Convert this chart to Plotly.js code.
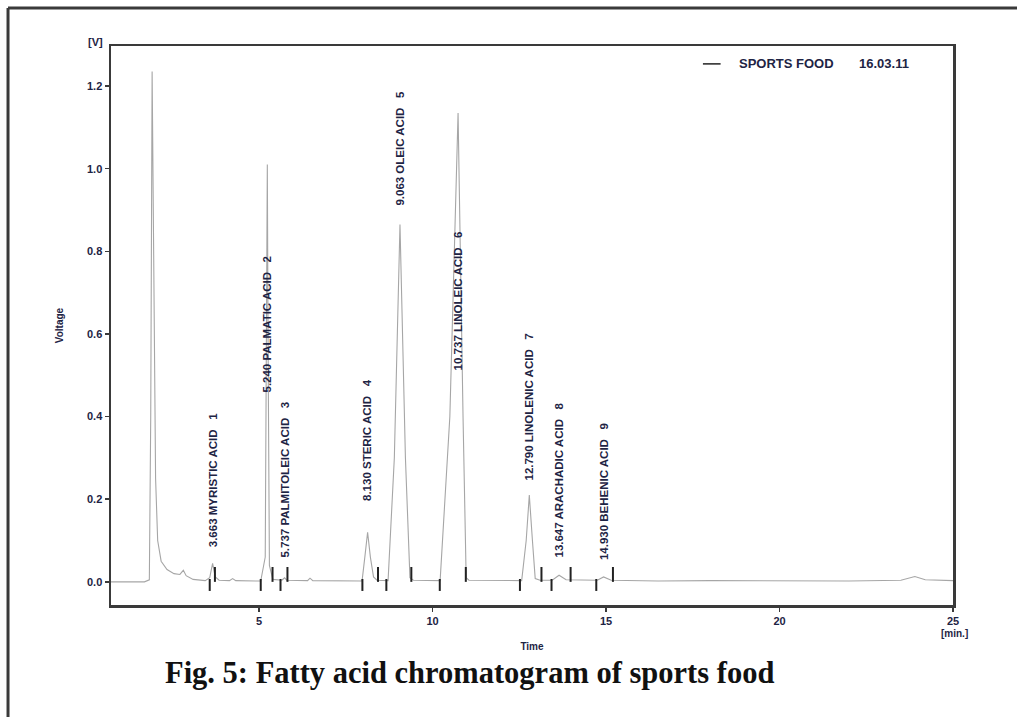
<!DOCTYPE html>
<html>
<head>
<meta charset="utf-8">
<script src="https://cdn.plot.ly/plotly-3.0.1.min.js"></script>
<style>
  html, body { margin: 0; padding: 0; background: #ffffff; }
  #chart { width: 1017px; height: 717px; }
</style>
</head>
<body>
<div id="chart"></div>
<script>
// Chromatogram trace: retention time (min) and detector voltage (V)
const timeMin = [
  0.735, 1.70, 1.84, 1.88, 1.92, 1.97, 2.02, 2.08, 2.18, 2.35, 2.55, 2.72, 2.82, 2.90, 3.10,
  3.45, 3.58, 3.663, 3.74, 3.85, 4.15, 4.24, 4.33,
  5.05, 5.18, 5.22, 5.240, 5.26, 5.30, 5.40,
  5.66, 5.737, 5.80, 6.40, 6.47, 6.55,
  7.97, 8.05, 8.130, 8.21, 8.30, 8.40,
  8.72, 8.90, 9.063, 9.22, 9.35, 9.45,
  10.22, 10.50, 10.737, 10.88, 10.97, 11.05,
  12.57, 12.70, 12.790, 12.88, 12.96, 13.10,
  13.45, 13.647, 13.85, 14.75, 14.930, 15.15,
  16.50, 18.00, 20.00, 22.00, 23.50, 23.90, 24.20, 25.00
];
const voltage = [
  0.000, 0.000, 0.005, 0.400, 1.235, 0.700, 0.250, 0.100, 0.050, 0.030, 0.020, 0.018, 0.028, 0.015, 0.006,
  0.003, 0.010, 0.045, 0.012, 0.004, 0.003, 0.008, 0.003,
  0.002, 0.060, 0.700, 1.010, 0.600, 0.040, 0.006,
  0.004, 0.010, 0.004, 0.003, 0.009, 0.003,
  0.002, 0.060, 0.120, 0.060, 0.012, 0.004,
  0.003, 0.300, 0.865, 0.300, 0.010, 0.004,
  0.003, 0.400, 1.135, 0.400, 0.010, 0.004,
  0.003, 0.100, 0.210, 0.100, 0.008, 0.004,
  0.004, 0.016, 0.005, 0.004, 0.012, 0.004,
  0.002, 0.003, 0.002, 0.002, 0.004, 0.013, 0.005, 0.003
];

// Identified fatty acid peaks
const peakNo = [1, 2, 3, 4, 5, 6, 7, 8, 9];
const peakTime = [3.663, 5.240, 5.737, 8.130, 9.063, 10.737, 12.790, 13.647, 14.930];
const peakName = [
  "MYRISTIC ACID", "PALMATIC ACID", "PALMITOLEIC ACID", "STERIC ACID", "OLEIC ACID",
  "LINOLEIC ACID", "LINOLENIC ACID", "ARACHADIC ACID", "BEHENIC ACID"
];
// Integration window of each peak (min)
const windowStart = [3.58, 5.05, 5.62, 7.98, 8.67, 10.21, 12.52, 13.43, 14.72];
const windowEnd   = [3.73, 5.39, 5.82, 8.43, 9.39, 10.96, 13.14, 13.98, 15.20];

// Axis ticks
const yTicks = [0.0, 0.2, 0.4, 0.6, 0.8, 1.0, 1.2];
const xTicks = [5, 10, 15, 20, 25];

// Label placement (V level where each rotated label starts)
const labelBase = [0.078, 0.453, 0.053, 0.190, 0.907, 0.506, 0.240, 0.053, 0.048];

const ink = "#1e2444";
const frame = "#3a3a3a";

// Integration markers: a drop below the baseline at the start, a rise at the end
const markX = [], markY = [];
windowStart.forEach((t, i) => {
  markX.push(t, t, null, windowEnd[i], windowEnd[i], null);
  markY.push(0.007, -0.022, null, 0.0, 0.036, null);
});

const traces = [
  {
    x: timeMin, y: voltage, type: "scatter", mode: "lines",
    line: { color: "#a6a6a6", width: 1.1 },
    hoverinfo: "skip", showlegend: false
  },
  {
    x: markX, y: markY, type: "scatter", mode: "lines",
    line: { color: "#222222", width: 2 },
    connectgaps: false, hoverinfo: "skip", showlegend: false
  }
];

const annotations = peakTime.map((t, i) => ({
  x: t, y: labelBase[i], xref: "x", yref: "y",
  text: t.toFixed(3) + " " + peakName[i] + "   " + peakNo[i],
  textangle: -90, showarrow: false,
  xanchor: "center", yanchor: "bottom",
  font: { family: "Arial, Liberation Sans, sans-serif", size: 11.5, color: ink, weight: "bold" }
}));

annotations.push(
  { x: -0.018, y: 1.007, xref: "paper", yref: "paper", text: "[V]", showarrow: false,
    xanchor: "center", yanchor: "middle",
    font: { family: "Arial, sans-serif", size: 11, color: ink, weight: "bold" } },
  { x: 1.002, y: -0.051, xref: "paper", yref: "paper", text: "[min.]", showarrow: false,
    xanchor: "center", yanchor: "middle",
    font: { family: "Arial, sans-serif", size: 10, color: ink, weight: "bold" } },
  { x: 0.744, y: 0.968, xref: "paper", yref: "paper", text: "SPORTS FOOD", showarrow: false,
    xanchor: "left", yanchor: "middle",
    font: { family: "Arial, sans-serif", size: 13, color: ink, weight: "bold" } },
  { x: 0.886, y: 0.968, xref: "paper", yref: "paper", text: "16.03.11", showarrow: false,
    xanchor: "left", yanchor: "middle",
    font: { family: "Arial, sans-serif", size: 13, color: ink, weight: "bold" } },
  { x: 0.0618, y: -0.122, xref: "paper", yref: "paper",
    text: "Fig. 5: Fatty acid chromatogram of sports food", showarrow: false,
    xanchor: "left", yanchor: "middle",
    font: { family: "Liberation Serif, Times New Roman, serif", size: 30.5, color: "#111111", weight: "bold" } }
);

const shapes = [
  // legend line sample
  { type: "line", xref: "paper", yref: "paper", x0: 0.703, x1: 0.724, y0: 0.968, y1: 0.968,
    line: { color: "#222222", width: 1.5 } },
  // outer figure border (top and left)
  { type: "line", xref: "paper", yref: "paper", x0: -0.1223, x1: 1.09, y0: 1.068, y1: 1.068,
    line: { color: frame, width: 3 } },
  { type: "line", xref: "paper", yref: "paper", x0: -0.1223, x1: -0.1223, y0: 1.068, y1: -0.21,
    line: { color: frame, width: 3 } }
];

const layout = {
  width: 1017, height: 717,
  margin: { l: 111, r: 64, t: 46, b: 112 },
  paper_bgcolor: "#ffffff", plot_bgcolor: "#ffffff",
  showlegend: false,
  xaxis: {
    range: [0.735, 25], tickvals: xTicks, ticktext: xTicks.map(String),
    showgrid: false, zeroline: false,
    showline: true, mirror: true, linecolor: frame, linewidth: 2.5,
    ticks: "outside", ticklen: 4, tickwidth: 1.5, tickcolor: frame,
    tickfont: { family: "Arial, sans-serif", size: 11, color: ink, weight: "bold" },
    title: { text: "Time", standoff: 18,
      font: { family: "Arial, sans-serif", size: 10, color: ink, weight: "bold" } }
  },
  yaxis: {
    range: [-0.056, 1.297], tickvals: yTicks, ticktext: yTicks.map(v => v.toFixed(1)),
    showgrid: false, zeroline: false,
    showline: true, mirror: true, linecolor: frame, linewidth: 2.5,
    ticks: "outside", ticklen: 4, tickwidth: 1.5, tickcolor: frame,
    tickfont: { family: "Arial, sans-serif", size: 11, color: ink, weight: "bold" },
    title: { text: "Voltage", standoff: 22,
      font: { family: "Arial, sans-serif", size: 10, color: ink, weight: "bold" } }
  },
  annotations: annotations,
  shapes: shapes
};

Plotly.newPlot("chart", traces, layout, { staticPlot: true, displayModeBar: false });
</script>
</body>
</html>
